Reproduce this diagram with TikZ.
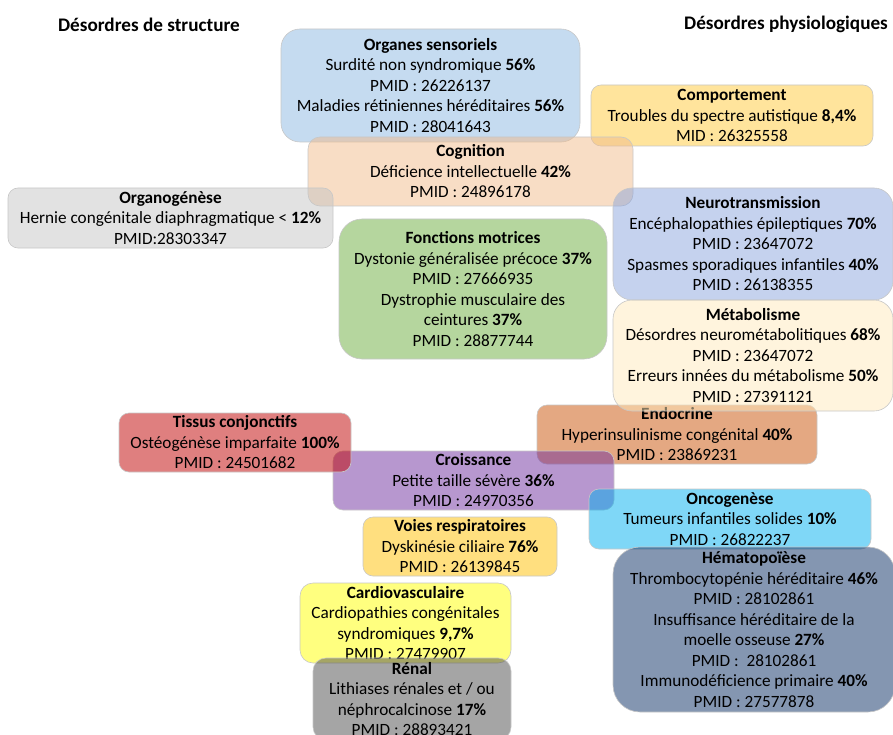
\documentclass[tikz,border=0pt]{standalone}
\usepackage{fontspec}
\setmainfont{Carlito}

\definecolor{sensBlue}{RGB}{139,183,225}
\definecolor{cognOrange}{RGB}{241,187,139}
\definecolor{compYellow}{RGB}{255,201,57}
\definecolor{organoGray}{RGB}{197,197,197}
\definecolor{motrGreen}{RGB}{107,173,61}
\definecolor{neuroBlue}{RGB}{139,165,221}
\definecolor{metabCream}{RGB}{255,233,187}
\definecolor{endoBrown}{RGB}{201,81,5}
\definecolor{tissuRed}{RGB}{192,0,0}
\definecolor{croisPurple}{RGB}{112,48,160}
\definecolor{respGold}{RGB}{255,192,0}
\definecolor{oncoCyan}{RGB}{0,176,240}
\definecolor{hemaNavy}{RGB}{10,45,100}
\definecolor{cardioYellow}{RGB}{255,255,0}
\definecolor{renalGray}{RGB}{75,75,75}

\tikzset{
  panel/.style={rectangle, rounded corners=#1, draw=black!22, line width=0.6pt,
    fill opacity=0.5, text opacity=1, align=center, inner sep=0pt,
    font=\fontsize{17.2}{20.5}\selectfont},
  heading/.style={font=\fontsize{19.2}{22}\selectfont\bfseries},
}

\begin{document}
\begin{tikzpicture}[x=1pt, y=-1pt]
    \useasboundingbox (0,0) rectangle (893,735);

    % Column headings
    \node[heading] (hstruct) at (149,24.5) {Désordres de structure};
    \node[heading] (hphysio) at (786,24.5) {Désordres physiologiques};

    % Draw nodes (upper part)
    \node[panel=19pt, fill=sensBlue, minimum width=299pt, minimum height=113pt] (sens) at (430.5,85.5)
        {\textbf{Organes sensoriels}\\ Surdité non syndromique \textbf{56\%}\\ PMID : 26226137\\
         Maladies rétiniennes héréditaires \textbf{56\%}\\ PMID : 28041643};
    \node[panel=10pt, fill=compYellow, minimum width=282pt, minimum height=61pt] (comp) at (732,115.5)
        {\textbf{Comportement}\\ Troubles du spectre autistique \textbf{8,4\%}\\ MID : 26325558};
    \node[panel=12pt, fill=cognOrange, minimum width=325pt, minimum height=69pt] (cogn) at (470.5,171.5)
        {\textbf{Cognition}\\ Déficience intellectuelle \textbf{42\%}\\ PMID : 24896178};
    \node[panel=10pt, fill=organoGray, minimum width=325pt, minimum height=60pt] (organo) at (170.5,218)
        {\textbf{Organogénèse}\\ Hernie congénitale diaphragmatique < \textbf{12\%}\\ PMID:28303347};
    \node[panel=23pt, fill=motrGreen, minimum width=268pt, minimum height=140pt] (motr) at (473,289)
        {\textbf{Fonctions motrices}\\ Dystonie généralisée précoce \textbf{37\%}\\ PMID : 27666935\\
         Dystrophie musculaire des\\ ceintures \textbf{37\%}\\ PMID : 28877744};
    \node[panel=19pt, fill=neuroBlue, minimum width=280pt, minimum height=112pt] (neuro) at (753,244)
        {\textbf{Neurotransmission}\\ Encéphalopathies épileptiques \textbf{70\%}\\ PMID : 23647072\\
         Spasmes sporadiques infantiles \textbf{40\%}\\ PMID : 26138355};

    % Draw nodes (middle part)
    \node[panel=10pt, fill=endoBrown, minimum width=280pt, minimum height=59pt] (endo) at (677,434.5)
        {\textbf{Endocrine}\\ Hyperinsulinisme congénital \textbf{40\%}\\ PMID : 23869231};
    \node[panel=19pt, fill=metabCream, minimum width=280pt, minimum height=111pt] (metab) at (753,355.5)
        {\textbf{Métabolisme}\\ Désordres neurométabolitiques \textbf{68\%}\\ PMID : 23647072\\
         Erreurs innées du métabolisme \textbf{50\%}\\ PMID : 27391121};
    \node[panel=10pt, fill=croisPurple, minimum width=281pt, minimum height=59pt] (crois) at (473.5,480.5)
        {\textbf{Croissance}\\ Petite taille sévère \textbf{36\%}\\ PMID : 24970356};
    \node[panel=10pt, fill=tissuRed, minimum width=232pt, minimum height=59pt] (tissu) at (235,442.5)
        {\textbf{Tissus conjonctifs}\\ Ostéogénèse imparfaite \textbf{100\%}\\ PMID : 24501682};
    \node[panel=10pt, fill=oncoCyan, minimum width=282pt, minimum height=60pt] (onco) at (730,519)
        {\textbf{Oncogenèse}\\ Tumeurs infantiles solides \textbf{10\%}\\ PMID : 26822237};
    \node[panel=10pt, fill=respGold, minimum width=194pt, minimum height=59pt] (resp) at (460,546.5)
        {\textbf{Voies respiratoires}\\ Dyskinésie ciliaire \textbf{76\%}\\ PMID : 26139845};

    % Draw nodes (lower part)
    \node[panel=27pt, fill=hemaNavy, minimum width=282pt, minimum height=165pt] (hema) at (754,629.5)
        {\textbf{Hématopoïèse}\\ Thrombocytopénie héréditaire \textbf{46\%}\\ PMID : 28102861\\
         Insuffisance héréditaire de la\\ moelle osseuse \textbf{27\%}\\ PMID :\ \ 28102861\\
         Immunodéficience primaire \textbf{40\%}\\ PMID : 27577878};
    \node[panel=13pt, fill=cardioYellow, minimum width=211pt, minimum height=80pt] (cardio) at (405.5,623)
        {\textbf{Cardiovasculaire}\\ Cardiopathies congénitales\\ syndromiques \textbf{9,7\%}\\ PMID : 27479907};
    \node[panel=13pt, fill=renalGray, minimum width=198pt, minimum height=82pt] (renal) at (412,699)
        {\textbf{Rénal}\\ Lithiases rénales et / ou\\ néphrocalcinose \textbf{17\%}\\ PMID : 28893421};
\end{tikzpicture}
\end{document}
